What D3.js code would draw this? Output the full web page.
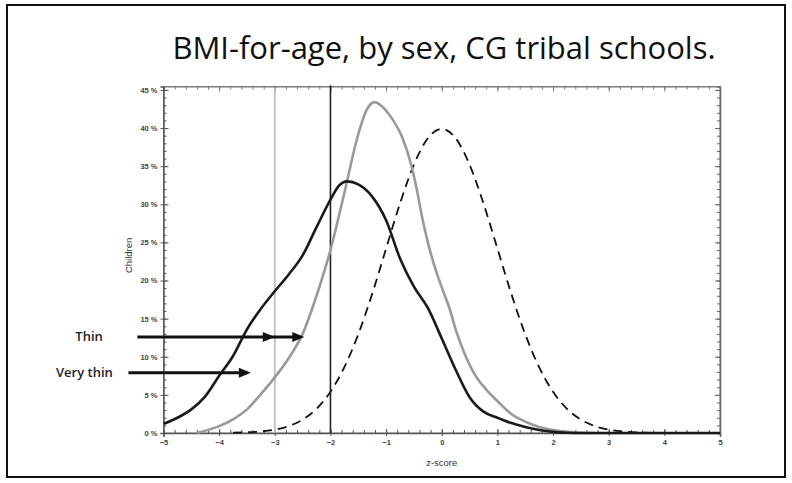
<!DOCTYPE html>
<html>
<head>
<meta charset="utf-8">
<script src="https://cdn.jsdelivr.net/npm/d3@7"></script>
<style>
  html, body { margin: 0; padding: 0; background: #fff; }
  svg { display: block; }
</style>
</head>
<body>
<svg id="chart" width="792" height="483"></svg>
<script>
// ---------- data ----------
const titleText = "BMI-for-age, by sex, CG tribal schools.";
const xTickValues = [-5, -4, -3, -2, -1, 0, 1, 2, 3, 4, 5];
const yTickValues = [0, 5, 10, 15, 20, 25, 30, 35, 40, 45];
const xLabel = "z-score";
const yLabel = "Children";

// dark solid series (z-score, % children)
const darkZ = [-5, -4.75, -4.5, -4.25, -4, -3.75, -3.5, -3.25, -3, -2.75, -2.5, -2.25, -2, -1.85, -1.7, -1.5, -1.25, -1, -0.75, -0.5, -0.25, 0, 0.25, 0.5, 0.75, 1, 1.25, 1.5, 1.75, 2, 2.25, 2.5, 3, 4, 5];
const darkPct = [1.2, 2.0, 3.1, 4.8, 7.5, 10.1, 13.6, 16.3, 18.6, 20.8, 23.3, 27.0, 30.6, 32.4, 33.0, 32.6, 31.0, 27.9, 22.9, 19.2, 16.4, 12.4, 8.3, 4.7, 2.8, 2.0, 1.3, 0.8, 0.4, 0.15, 0.04, 0, 0, 0, 0];

// grey solid series
const greyZ = [-4.4, -4.0, -3.75, -3.5, -3.25, -3.0, -2.75, -2.5, -2.25, -2.0, -1.75, -1.5, -1.35, -1.2, -1.1, -0.9, -0.7, -0.55, -0.45, -0.35, -0.25, -0.1, 0, 0.15, 0.25, 0.4, 0.6, 0.8, 1.0, 1.25, 1.5, 1.75, 2.0, 2.25, 2.5, 2.75];
const greyPct = [0, 0.9, 1.8, 3.1, 5.1, 7.3, 9.8, 13.0, 18.0, 24.0, 31.5, 39.2, 42.4, 43.4, 43.0, 41.3, 38.6, 35.2, 32.0, 28.2, 25.0, 21.2, 19.1, 16.1, 13.6, 10.6, 7.6, 5.7, 4.2, 2.5, 1.5, 0.8, 0.4, 0.15, 0.03, 0];

// dashed reference distribution
const refZ = [-3.75, -3.5, -3.25, -3, -2.75, -2.5, -2.25, -2, -1.75, -1.5, -1.25, -1, -0.75, -0.5, -0.25, 0, 0.25, 0.5, 0.75, 1, 1.25, 1.5, 1.75, 2, 2.25, 2.5, 2.75, 3, 3.25, 3.5, 4, 5];
const refPct = [0.04, 0.09, 0.2, 0.44, 0.91, 1.75, 3.17, 5.4, 8.63, 12.95, 18.26, 24.2, 30.11, 35.2, 38.67, 39.9, 38.67, 35.2, 30.11, 24.2, 18.26, 12.95, 8.63, 5.4, 3.17, 1.75, 0.91, 0.44, 0.2, 0.09, 0.01, 0];

// cut-off lines (z-score)
const cutoffs = [-3, -2];

// annotation arrows: label, level (%), start z, arrow-head z positions, label end z
const annotLabels = ["Thin", "Very thin"];
const annotLevels = [12.6, 7.9];
const annotStartZ = [-5.47, -5.63];
const annotHeadsZ = [[-3.0, -2.47], [-3.43]];
const annotLabelEndZ = [-6.09, -5.91];

// ---------- layout ----------
const svg = d3.select("#chart");
const x = d3.scaleLinear().domain([-5, 5]).range([163.5, 720]);
const y = d3.scaleLinear().domain([0, 45.45]).range([433, 86.5]);

// outer border
svg.append("rect").attr("x", 7).attr("y", 5).attr("width", 778).attr("height", 472)
  .attr("fill", "none").attr("stroke", "#111").attr("stroke-width", 2);

// title
svg.append("text").attr("x", 444).attr("y", 59).attr("text-anchor", "middle")
  .attr("font-family", "Open Sans, sans-serif").attr("font-size", 31)
  .attr("fill", "#111").text(titleText);

const axisColor = "#555";

// plot frame
svg.append("rect").attr("x", x(-5)).attr("y", y(45.45)).attr("width", x(5) - x(-5)).attr("height", y(0) - y(45.45))
  .attr("fill", "none").attr("stroke", "#888").attr("stroke-width", 1);

// minor ticks lists
const xMinor = d3.range(-5, 5.0001, 0.2).map(v => +v.toFixed(2));
const yMinor = d3.range(0, 45.0001, 1);

function styleAxis(g) {
  g.select(".domain").attr("stroke", axisColor).attr("stroke-width", 1.5);
  g.selectAll(".tick line").attr("stroke", axisColor).attr("stroke-width", 1);
  g.selectAll(".tick text").attr("font-family", "Arial, Liberation Sans, sans-serif")
    .attr("font-size", 7.5).attr("font-weight", "bold").attr("fill", "#444");
}

// bottom axis
const gx = svg.append("g").attr("transform", `translate(0,${y(0)})`)
  .call(d3.axisBottom(x).tickValues(xTickValues).tickSize(4).tickPadding(3).tickFormat(d3.format("d")));
styleAxis(gx);
gx.selectAll(".tick line").attr("y1", -4).attr("y2", 3);
svg.append("g").attr("transform", `translate(0,${y(0)})`)
  .call(d3.axisBottom(x).tickValues(xMinor).tickSize(-3).tickFormat(""))
  .call(g => { g.select(".domain").remove(); g.selectAll("line").attr("stroke", axisColor); });

// top axis
svg.append("g").attr("transform", `translate(0,${y(45.45)})`)
  .call(d3.axisTop(x).tickValues(xMinor).tickSize(-3).tickFormat(""))
  .call(g => { g.select(".domain").attr("stroke", "#777"); g.selectAll("line").attr("stroke", "#777"); });
svg.append("g").attr("transform", `translate(0,${y(45.45)})`)
  .call(d3.axisTop(x).tickValues(xTickValues).tickSize(-5).tickFormat(""))
  .call(g => { g.select(".domain").remove(); g.selectAll("line").attr("stroke", "#777"); });

// left axis
const gy = svg.append("g").attr("transform", `translate(${x(-5)},0)`)
  .call(d3.axisLeft(y).tickValues(yTickValues).tickSize(3).tickPadding(3).tickFormat(d => d + " %"));
styleAxis(gy);
gy.selectAll(".tick line").attr("x1", -3).attr("x2", 5);
svg.append("g").attr("transform", `translate(${x(-5)},0)`)
  .call(d3.axisLeft(y).tickValues(yMinor).tickSize(-3).tickFormat(""))
  .call(g => { g.select(".domain").remove(); g.selectAll("line").attr("stroke", axisColor); });

// right axis
svg.append("g").attr("transform", `translate(${x(5)},0)`)
  .call(d3.axisRight(y).tickValues(yMinor).tickSize(-3).tickFormat(""))
  .call(g => { g.select(".domain").attr("stroke", "#666").attr("stroke-width", 1.5); g.selectAll("line").attr("stroke", "#666"); });
svg.append("g").attr("transform", `translate(${x(5)},0)`)
  .call(d3.axisRight(y).tickValues(yTickValues).tickSize(-5).tickFormat(""))
  .call(g => { g.select(".domain").remove(); g.selectAll("line").attr("stroke", "#666"); });

// axis titles
svg.append("text").attr("x", x(0)).attr("y", 466).attr("text-anchor", "middle")
  .attr("font-family", "Arial, Liberation Sans, sans-serif").attr("font-size", 9.5)
  .attr("fill", "#333").text(xLabel);
svg.append("text").attr("transform", `translate(132,${y(23.3)}) rotate(-90)`).attr("text-anchor", "middle")
  .attr("font-family", "Arial, Liberation Sans, sans-serif").attr("font-size", 9.5)
  .attr("fill", "#333").text(yLabel);

// cut-off vertical lines
svg.append("line").attr("x1", x(cutoffs[0])).attr("x2", x(cutoffs[0]))
  .attr("y1", y(45.2)).attr("y2", y(0)).attr("stroke", "#c4c4c4").attr("stroke-width", 2);
svg.append("line").attr("x1", x(cutoffs[1])).attr("x2", x(cutoffs[1]))
  .attr("y1", y(45.6)).attr("y2", y(0)).attr("stroke", "#222").attr("stroke-width", 1.6);

// curves
const line = d3.line().x(d => x(d[0])).y(d => y(d[1])).curve(d3.curveMonotoneX);
const zip = (a, b) => a.map((v, i) => [v, b[i]]);

svg.append("path").datum(zip(refZ, refPct)).attr("d", line)
  .attr("fill", "none").attr("stroke", "#111").attr("stroke-width", 1.8).attr("stroke-dasharray", "9,6");
svg.append("path").datum(zip(greyZ, greyPct)).attr("d", line)
  .attr("fill", "none").attr("stroke", "#999").attr("stroke-width", 2.6).attr("stroke-linejoin", "round");
svg.append("path").datum(zip(darkZ, darkPct)).attr("d", line)
  .attr("fill", "none").attr("stroke", "#1a1a1a").attr("stroke-width", 2.6).attr("stroke-linejoin", "round");

// annotation arrows
annotLabels.forEach((lab, i) => {
  const yy = y(annotLevels[i]);
  const heads = annotHeadsZ[i];
  const end = d3.max(heads);
  svg.append("line").attr("x1", x(annotStartZ[i])).attr("x2", x(end) - 4)
    .attr("y1", yy).attr("y2", yy).attr("stroke", "#111").attr("stroke-width", 3);
  heads.forEach(h => {
    const tx = x(h);
    svg.append("path").attr("d", `M${tx},${yy} L${tx - 12},${yy - 5} L${tx - 12},${yy + 5} Z`).attr("fill", "#111");
  });
  svg.append("text").attr("x", x(annotLabelEndZ[i])).attr("y", yy + 4.5).attr("text-anchor", "end")
    .attr("font-family", "Open Sans, sans-serif").attr("font-size", 13).attr("font-weight", 600)
    .attr("fill", "#222").text(lab);
});
</script>
</body>
</html>
